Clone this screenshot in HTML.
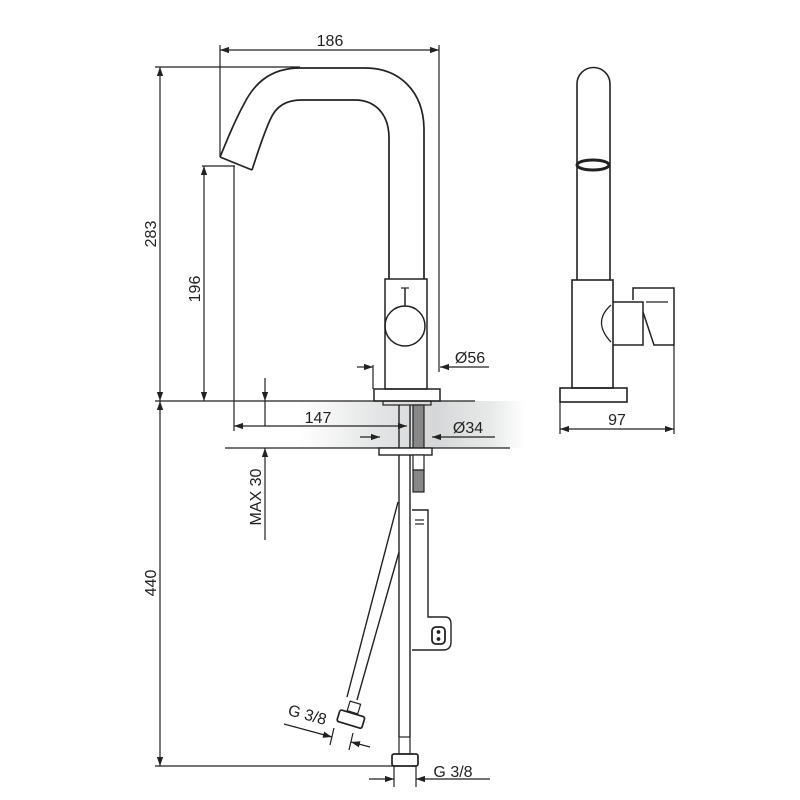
<!DOCTYPE html>
<html><head><style>html,body{margin:0;padding:0;background:#fff}svg{display:block}text{font-family:"Liberation Sans",sans-serif;fill:#222}</style></head>
<body>
<svg width="800" height="800" viewBox="0 0 800 800" xmlns="http://www.w3.org/2000/svg">
<defs>
<marker id="a" viewBox="0 0 10 10" refX="10" refY="5" markerWidth="9" markerHeight="9" orient="auto-start-reverse" markerUnits="userSpaceOnUse"><path d="M0,1.5 L10,5 L0,8.5 z" fill="#222"/></marker>
<linearGradient id="g" x1="0" x2="1" y1="0" y2="0">
<stop offset="0" stop-color="#fff"/><stop offset="0.35" stop-color="#e3e4e5"/><stop offset="0.6" stop-color="#d6d7d8"/><stop offset="0.85" stop-color="#e8e9e9"/><stop offset="1" stop-color="#fff"/></linearGradient>
</defs>
<rect x="300" y="401" width="225" height="47" fill="url(#g)"/>
<g fill="none" stroke="#222" stroke-width="1.2">
<line x1="220" y1="50" x2="439" y2="50" marker-start="url(#a)" marker-end="url(#a)"/>
<line x1="220" y1="45" x2="220" y2="157"/>
<line x1="439" y1="45" x2="439" y2="372"/>
<line x1="155" y1="67" x2="300" y2="67"/>
<line x1="160" y1="67" x2="160" y2="401" marker-start="url(#a)" marker-end="url(#a)"/>
<line x1="155" y1="401" x2="475" y2="401"/>
<line x1="202" y1="166" x2="235" y2="166"/>
<line x1="204" y1="166" x2="204" y2="401" marker-start="url(#a)" marker-end="url(#a)"/>
<line x1="234" y1="166" x2="234" y2="431"/>
<line x1="234" y1="426" x2="407" y2="426" marker-start="url(#a)" marker-end="url(#a)"/>
<line x1="357" y1="367" x2="373" y2="367" marker-end="url(#a)"/>
<line x1="489" y1="367" x2="440" y2="367" marker-end="url(#a)"/>
<line x1="373" y1="365" x2="373" y2="389"/>
<line x1="360" y1="437" x2="380" y2="437" marker-end="url(#a)"/>
<line x1="495" y1="437" x2="432" y2="437" marker-end="url(#a)"/>
<line x1="225" y1="448" x2="510" y2="448"/>
<line x1="265" y1="378" x2="265" y2="401" marker-end="url(#a)"/>
<line x1="265" y1="540" x2="265" y2="448" marker-end="url(#a)"/>
<line x1="265" y1="401" x2="265" y2="426"/>
<line x1="160" y1="401" x2="160" y2="766" marker-start="url(#a)" marker-end="url(#a)"/>
<line x1="155" y1="766" x2="395" y2="766"/>
<path d="M220,157 C228,138 234,122 244,104 C254,84 270,68 300,68 L365,68 C400,68 424,92 424,130 L424,279" stroke-width="1.7"/>
<path d="M252,170 C258,152 262,138 270,120 C276,106 286,100 302,100 L355,100 C375,100 389,114 389,138 L389,279" stroke-width="1.7"/>
<path d="M220,157 L252,170" stroke-width="1.7"/>
<rect x="385" y="279" width="42" height="110" stroke-width="1.5"/>
<rect x="374" y="389" width="66" height="12" stroke-width="1.5"/>
<circle cx="405" cy="326" r="20" stroke-width="1.5"/>
<line x1="405" y1="288" x2="405" y2="306" stroke-width="1.5"/>
<line x1="401" y1="288" x2="409" y2="288"/>
<rect x="383" y="401" width="48" height="4"/>
<line x1="399" y1="405" x2="399" y2="737" stroke-width="1.4"/>
<line x1="410" y1="405" x2="410" y2="737" stroke-width="1.4"/>
<rect x="413" y="405" width="11" height="43" fill="#888"/>
<rect x="379" y="448" width="53" height="7" fill="#fff" stroke-width="1.4"/>
<rect x="413" y="455" width="11" height="15" fill="#fff"/>
<rect x="413" y="470" width="11" height="22" fill="#888"/>
<path d="M412,510 L428,510 L428,617 L445,617 Q451,617 451,624 L451,642 Q451,650 443,650 L412,650" stroke-width="1.4"/>
<rect x="432" y="627" width="13" height="17" rx="4" stroke-width="1.8"/>
<circle cx="438.5" cy="632" r="1.3" fill="#222"/><circle cx="438.5" cy="639" r="1.3" fill="#222"/>
<line x1="415" y1="520" x2="424" y2="520"/><line x1="415" y1="524" x2="424" y2="524"/>
<line x1="398" y1="502" x2="347" y2="697" stroke-width="1.4"/>
<line x1="399" y1="552" x2="357" y2="700" stroke-width="1.4"/>
<g transform="translate(350,722) rotate(17)">
<rect x="-6" y="-20" width="11" height="10"/>
<rect x="-13" y="-9" width="26" height="12" rx="2" stroke-width="1.7"/>
</g>
<rect x="399" y="737" width="11" height="17"/>
<rect x="392" y="754" width="26" height="12" rx="2" stroke-width="1.7"/>
<line x1="394" y1="766" x2="394" y2="787"/>
<line x1="416" y1="766" x2="416" y2="787"/>
<line x1="369" y1="779" x2="394" y2="779" marker-end="url(#a)"/>
<line x1="490" y1="779" x2="416" y2="779" marker-end="url(#a)"/>
<line x1="284" y1="724" x2="332" y2="737" marker-end="url(#a)"/>
<line x1="370" y1="747" x2="351" y2="742" marker-end="url(#a)"/>
<line x1="334" y1="728" x2="330" y2="745"/>
<line x1="353" y1="733" x2="349" y2="750"/>
<path d="M577,280 L577,84 A16.5,16.5 0 0 1 610,84 L610,280" stroke-width="1.6"/>
<ellipse cx="593" cy="165" rx="16" ry="5" stroke-width="3"/>
<rect x="572" y="280" width="41" height="108" stroke-width="1.6"/>
<rect x="560" y="388" width="67" height="14" stroke-width="1.6"/>
<path d="M613,302 L643,302 L643,345 L613,345" stroke-width="1.5"/>
<path d="M611,305 Q592,322 611,342" stroke-width="1.3"/>
<path d="M633,300 L633,288 L674,288 L674,345 L654,345 L643,312" stroke-width="1.5"/>
<line x1="646" y1="302" x2="668" y2="302"/>
<line x1="560" y1="402" x2="560" y2="434"/>
<line x1="674" y1="345" x2="674" y2="434"/>
<line x1="560" y1="429" x2="674" y2="429" marker-start="url(#a)" marker-end="url(#a)"/>
</g>
<text x="330" y="46" font-size="16" text-anchor="middle">186</text>
<text x="0" y="0" font-size="16" text-anchor="middle" transform="translate(156,234) rotate(-90)">283</text>
<text x="0" y="0" font-size="16" text-anchor="middle" transform="translate(200,289) rotate(-90)">196</text>
<text x="318" y="423" font-size="16" text-anchor="middle">147</text>
<text x="470" y="363" font-size="16" text-anchor="middle">Ø56</text>
<text x="468" y="433" font-size="16" text-anchor="middle">Ø34</text>
<text x="0" y="0" font-size="16" text-anchor="middle" transform="translate(261,497) rotate(-90)">MAX 30</text>
<text x="0" y="0" font-size="16" text-anchor="middle" transform="translate(306,720) rotate(15)">G 3/8</text>
<text x="453" y="777" font-size="16" text-anchor="middle">G 3/8</text>
<text x="617" y="425" font-size="16" text-anchor="middle">97</text>
<text x="0" y="0" font-size="16" text-anchor="middle" transform="translate(156,583) rotate(-90)">440</text>
</svg>
</body></html>
